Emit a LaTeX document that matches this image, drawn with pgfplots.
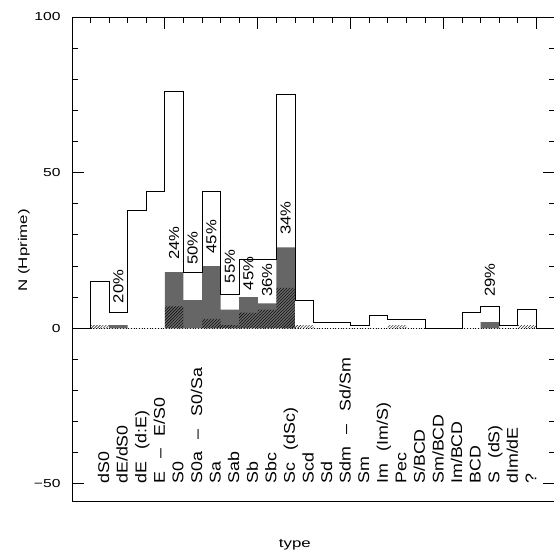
\documentclass[border=0pt]{standalone}
\usepackage{fontspec}
\setmainfont{Liberation Sans}
\newfontfamily\labfont[FakeStretch=1.15,WordSpace=2.6]{Liberation Sans}
\newfontfamily\axfont[FakeStretch=1.35]{Liberation Sans}
\usepackage{pgfplots}
\usepackage{pgfplotstable}
\pgfplotsset{compat=1.18}
\usetikzlibrary{patterns}

% all galaxies per type bin (bin k spans [k,k+1])
\pgfplotstableread{
x all
0 0
1 15
2 5
3 38
4 44
5 76
6 18
7 44
8 11
9 22
10 22
11 75
12 9
13 2
14 2
15 1
16 4
17 3
18 3
19 0
20 0
21 5
22 7
23 1
24 6
25 0
26 0
}\tall

% grey subset
\pgfplotstableread{
x g
0 0
1 0
2 1
3 0
4 0
5 18
6 9
7 20
8 6
9 10
10 8
11 26
12 0
13 0
14 0
15 0
16 0
17 0
18 0
19 0
20 0
21 0
22 2
23 0
24 0
25 0
26 0
}\tgray

% hatched subset
\pgfplotstableread{
x h
0 0
1 1
2 0
3 0
4 0
5 7
6 0
7 3
8 1
9 5
10 6
11 13
12 1
13 0
14 0
15 0
16 0
17 1
18 0
19 0
20 0
21 0
22 0
23 0
24 1
25 0
26 0
}\thatch

\begin{document}
\begin{tikzpicture}
\useasboundingbox (-72bp,-50bp) rectangle (482bp,501bp);
\begin{axis}[
  at={(0,0)}, anchor=south west,
  scale only axis, width=483bp, height=484bp,
  xmin=0, xmax=26, ymin=-55.5, ymax=100,
  axis line style={line width=0.9pt},
  tick align=inside,
  xtick={0,5,...,25}, minor x tick num=4,
  xtick pos=right, xticklabels={},
  ytick={-50,0,50,100}, yticklabels={−50,0,50,100},
  minor y tick num=4,
  major tick length=12bp, minor tick length=6bp,
  tick style={black, line width=0.8pt},
  yticklabel style={font={\axfont\fontsize{11.6bp}{13bp}\selectfont}, xshift=-8bp},
  ylabel={N (Hprime)},
  ylabel style={at={(axis description cs:-0.0994,0.518)}, anchor=center,
    font={\axfont\fontsize{12.5bp}{14bp}\selectfont}},
  xlabel={type},
  xlabel style={at={(axis description cs:0.4615,0)}, anchor=base, yshift=-46.4bp,
    font={\axfont\fontsize{12.5bp}{14bp}\selectfont}},
]
\addplot[dotted, black, line width=0.7pt, forget plot] coordinates {(1,0) (25,0)};
\addplot[ybar interval, fill=black!60, draw=none] table[x=x,y=g] {\tgray};
\addplot[ybar interval, pattern=north east lines, pattern color=black, draw=none] table[x=x,y=h] {\thatch};
\addplot[const plot, black, line width=0.8pt] table[x=x,y=all] {\tall};
% percentage labels
\addplot[only marks, mark=none, nodes near coords, point meta=explicit symbolic,
  every node near coord/.append style={rotate=90, anchor=west, inner sep=0pt,
    font={\labfont\fontsize{14.5bp}{16bp}\selectfont}}]
  table[x=x, y=y, meta=lab] {
x y lab
2.5 8 {20\%}
5.5 22 {24\%}
6.5 20.3 {50\%}
7.5 24 {45\%}
8.5 14.4 {55\%}
9.5 12.2 {45\%}
10.5 10 {36\%}
11.5 30 {34\%}
22.5 10 {29\%}
};
% type names
\addplot[only marks, mark=none, nodes near coords, point meta=explicit symbolic,
  every node near coord/.append style={rotate=90, anchor=base west, inner sep=0pt,
    font={\labfont\fontsize{15.5bp}{17bp}\selectfont}}]
  table[x=x, y=y, meta=lab] {
x y lab
2 -50 {dS0}
3 -50 {dE/dS0}
4 -50 {dE (d:E)}
5 -50 {E – E/S0}
6 -50 {S0}
7 -50 {S0a – S0/Sa}
8 -50 {Sa}
9 -50 {Sab}
10 -50 {Sb}
11 -50 {Sbc}
12 -50 {Sc (dSc)}
13 -50 {Scd}
14 -50 {Sd}
15 -50 {Sdm – Sd/Sm}
16 -50 {Sm}
17 -50 {Im (Im/S)}
18 -50 {Pec}
19 -50 {S/BCD}
20 -50 {Sm/BCD}
21 -50 {Im/BCD}
22 -50 {BCD}
23 -50 {S (dS)}
24 -50 {dIm/dE}
25 -50 {?}
};
\end{axis}
\end{tikzpicture}
\end{document}
